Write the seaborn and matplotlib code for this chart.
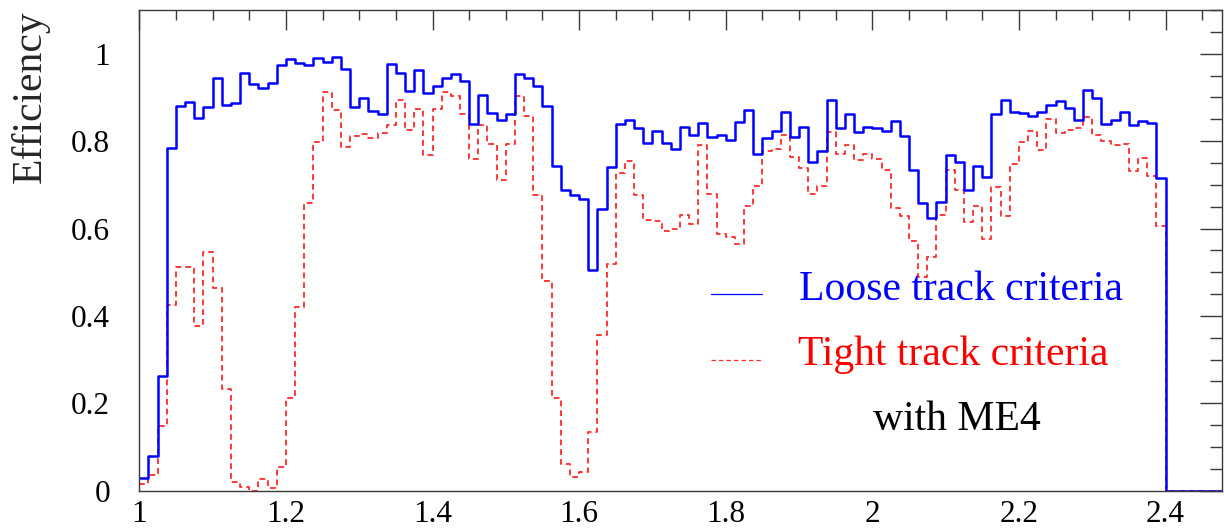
import numpy as np
import pandas as pd
import matplotlib
matplotlib.use("Agg")
import matplotlib.pyplot as plt
import seaborn as sns

# ---- data (bin contents, 120 bins of width 0.0125 from 1.0 to 2.5) ----
x_min = 1.0
bin_width = 0.0125
n_bins = 120

loose = [0.028, 0.080, 0.263, 0.784, 0.880, 0.889, 0.852, 0.879, 0.944, 0.882,
         0.888, 0.956, 0.930, 0.921, 0.932, 0.975, 0.987, 0.979, 0.975, 0.991,
         0.981, 0.992, 0.966, 0.878, 0.898, 0.868, 0.863, 0.977, 0.955, 0.915,
         0.962, 0.911, 0.925, 0.944, 0.954, 0.937, 0.840, 0.905, 0.865, 0.849,
         0.863, 0.953, 0.944, 0.925, 0.880, 0.742, 0.689, 0.677, 0.668, 0.506,
         0.645, 0.741, 0.839, 0.848, 0.830, 0.796, 0.822, 0.796, 0.781, 0.832,
         0.813, 0.842, 0.810, 0.815, 0.802, 0.843, 0.871, 0.770, 0.807, 0.824,
         0.867, 0.810, 0.833, 0.752, 0.777, 0.894, 0.829, 0.863, 0.820, 0.833,
         0.829, 0.823, 0.846, 0.811, 0.733, 0.659, 0.624, 0.661, 0.769, 0.752,
         0.689, 0.744, 0.717, 0.862, 0.894, 0.867, 0.865, 0.857, 0.866, 0.883,
         0.891, 0.875, 0.849, 0.918, 0.898, 0.839, 0.849, 0.867, 0.837, 0.845,
         0.841, 0.716, 0.0, 0.0, 0.0, 0.0, 0.0, 0.0, 0.0, 0.0]

tight = [0.015, 0.036, 0.147, 0.426, 0.513, 0.513, 0.376, 0.546, 0.464, 0.232,
         0.020, 0.009, 0.000, 0.027, 0.007, 0.054, 0.212, 0.420, 0.659, 0.797,
         0.912, 0.872, 0.787, 0.812, 0.816, 0.806, 0.819, 0.836, 0.893, 0.825,
         0.874, 0.768, 0.874, 0.912, 0.903, 0.861, 0.758, 0.836, 0.794, 0.712,
         0.794, 0.903, 0.857, 0.677, 0.479, 0.212, 0.061, 0.031, 0.042, 0.134,
         0.357, 0.518, 0.726, 0.754, 0.676, 0.620, 0.617, 0.594, 0.598, 0.632,
         0.611, 0.790, 0.680, 0.588, 0.581, 0.565, 0.651, 0.698, 0.777, 0.781,
         0.815, 0.764, 0.739, 0.679, 0.697, 0.820, 0.771, 0.792, 0.756, 0.770,
         0.758, 0.735, 0.647, 0.629, 0.572, 0.490, 0.535, 0.632, 0.733, 0.687,
         0.615, 0.651, 0.575, 0.695, 0.629, 0.748, 0.797, 0.824, 0.779, 0.851,
         0.819, 0.826, 0.830, 0.856, 0.813, 0.800, 0.790, 0.794, 0.731, 0.762,
         0.721, 0.605, 0.0, 0.0, 0.0, 0.0, 0.0, 0.0, 0.0, 0.0]

x_ticks = [1.0, 1.2, 1.4, 1.6, 1.8, 2.0, 2.2, 2.4]
x_tick_labels = ["1", "1.2", "1.4", "1.6", "1.8", "2", "2.2", "2.4"]
y_ticks = [0, 0.2, 0.4, 0.6, 0.8, 1.0]
y_tick_labels = ["0", "0.2", "0.4", "0.6", "0.8", "1"]

label_loose = "Loose track criteria"
label_tight = "Tight track criteria"
label_extra = "with ME4"
y_title = "Efficiency"

# ---- build table ----
edges = x_min + bin_width * np.arange(n_bins + 1)
centers = 0.5 * (edges[:-1] + edges[1:])
df = pd.DataFrame({"x": centers, "loose": loose, "tight": tight})
bin_edges = [float(e) for e in edges]

# ---- style ----
sns.set_style("white")
plt.rcParams["font.family"] = ["Liberation Serif", "DejaVu Serif"]

W, H = 1224, 529
fig = plt.figure(figsize=(W / 100, H / 100), dpi=100)
ax_left, ax_right, ax_top, ax_bottom = 139.3, 1222.0, 10.0, 490.7
ax = fig.add_axes([ax_left / W, 1 - ax_bottom / H,
                   (ax_right - ax_left) / W, (ax_bottom - ax_top) / H])

blue = "#0000ff"
red = "#ff2a2a"

sns.histplot(data=df, x="x", weights="tight", bins=bin_edges, element="step",
             fill=False, color=red, linewidth=1.3, linestyle=(0, (3.2, 2.2)), ax=ax)
sns.histplot(data=df, x="x", weights="loose", bins=bin_edges, element="step",
             fill=False, color=blue, linewidth=1.8, ax=ax)

ax.set_xlim(1.0, 2.477)
ax.set_ylim(0, 1.1)

ax.set_xticks(x_ticks)
ax.set_xticklabels(x_tick_labels)
ax.set_yticks(y_ticks)
ax.set_yticklabels(y_tick_labels)
ax.xaxis.set_minor_locator(matplotlib.ticker.MultipleLocator(0.05))
ax.yaxis.set_minor_locator(matplotlib.ticker.MultipleLocator(0.05))

frame_col = "#3a3a3a"
ax.tick_params(axis="both", which="both", direction="in", top=True, right=True,
               colors=frame_col, labelcolor="black", width=1.0)
ax.tick_params(axis="x", which="major", length=14.5, pad=7, labelsize=22.5)
ax.tick_params(axis="x", which="minor", length=7.5)
ax.tick_params(axis="y", which="major", length=16, pad=21, labelsize=22.5)
ax.tick_params(axis="y", which="minor", length=8.5)
for s in ax.spines.values():
    s.set_visible(True)
    s.set_color(frame_col)
    s.set_linewidth(1.0)

ax.set_xlabel("")
ax.set_ylabel(y_title, fontsize=30, loc="top")
ax.yaxis.set_label_coords(-0.083, 1.0)

# ---- legend ----
ax.plot([0.528, 0.575], [0.409, 0.409], transform=ax.transAxes, color=blue, lw=0.9)
ax.plot([0.528, 0.575], [0.272, 0.272], transform=ax.transAxes, color=red, lw=0.9,
        linestyle=(0, (3.5, 2.5)))
ax.text(0.609, 0.397, label_loose, transform=ax.transAxes, color=blue,
        fontsize=30, va="baseline", ha="left")
ax.text(0.608, 0.2615, label_tight, transform=ax.transAxes, color="#ff0000",
        fontsize=30, va="baseline", ha="left")
ax.text(0.678, 0.126, label_extra, transform=ax.transAxes, color="black",
        fontsize=30, va="baseline", ha="left")

fig.savefig("out.png", dpi=100)
